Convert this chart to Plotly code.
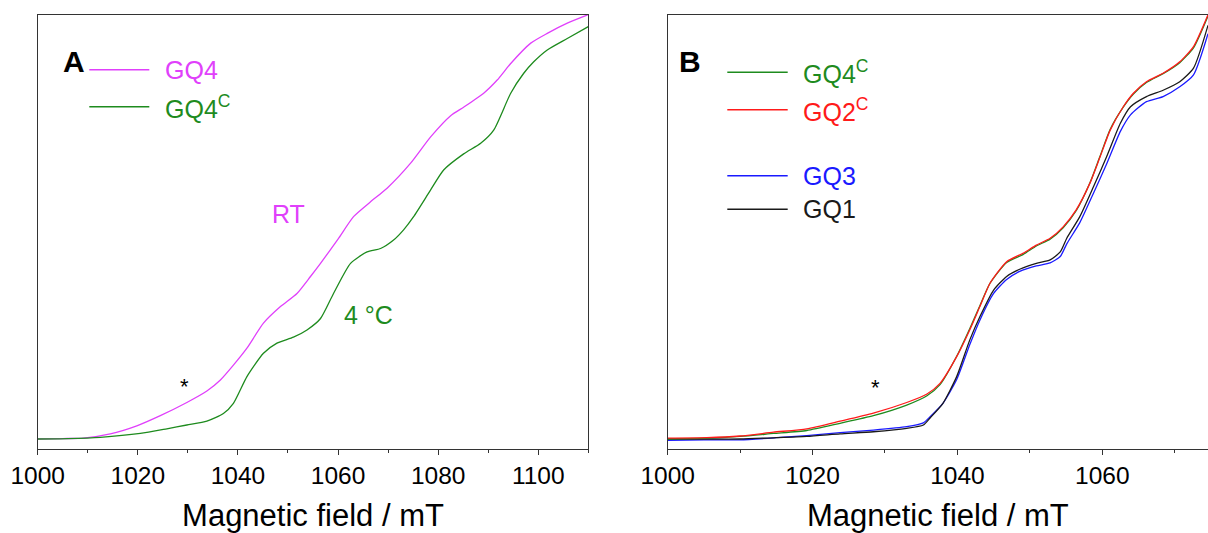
import plotly.graph_objects as go

W, H = 1208, 533

# ---------------- Panel A data ----------------
field_A_gq4 = [1000, 1005, 1009.1, 1014.5, 1019.8, 1024.5, 1029.8, 1033.8, 1036.5, 1039.1, 1041.8,
               1045.1, 1048.5, 1051.8, 1054.5, 1056.5, 1060, 1063.1, 1066.5, 1069.8, 1074.5, 1078.5,
               1082.5, 1085.1, 1089.1, 1091.8, 1094.5, 1098.5, 1101.8, 1105.8, 1110]
int_A_gq4 = [0, 0.001, 0.002, 0.012, 0.031, 0.055, 0.086, 0.113, 0.139, 0.174, 0.214,
             0.273, 0.312, 0.343, 0.383, 0.414, 0.471, 0.524, 0.559, 0.591, 0.650, 0.712,
             0.762, 0.782, 0.815, 0.846, 0.885, 0.933, 0.956, 0.980, 1.0]

field_A_gq4c = [1000, 1006, 1012.5, 1020.5, 1025.8, 1029.8, 1033.8, 1037.1, 1039.1, 1041.8, 1045.1,
                1047.8, 1051.1, 1053.8, 1056.5, 1059.1, 1062.5, 1065.8, 1068.5, 1071.1, 1073.1,
                1075.1, 1078.5, 1081.1, 1085.1, 1088.5, 1091.1, 1094.5, 1097.1, 1099.1, 1101.8,
                1105.8, 1110]
int_A_gq4c = [0, 0.001, 0.004, 0.013, 0.024, 0.033, 0.042, 0.060, 0.084, 0.147, 0.202,
              0.226, 0.240, 0.257, 0.284, 0.343, 0.414, 0.441, 0.449, 0.469, 0.493,
              0.524, 0.587, 0.634, 0.672, 0.697, 0.728, 0.815, 0.862, 0.889, 0.917,
              0.944, 0.972]

# ---------------- Panel B data ----------------
field_B_c = [1000, 1005.4, 1010, 1014.6, 1019.2, 1023.8, 1028.4, 1033, 1035.8, 1037.6, 1039.9,
             1041.7, 1043.1, 1044.5, 1046.8, 1049.1, 1050.9, 1052.8, 1054.6, 1056.4, 1058.3,
             1059.7, 1061.1, 1062.9, 1064.3, 1066.1, 1068.4, 1070.7, 1072.6, 1074.6]
int_B_gq2c = [0.002, 0.003, 0.007, 0.016, 0.024, 0.042, 0.061, 0.086, 0.106, 0.131, 0.194,
              0.257, 0.312, 0.367, 0.418, 0.438, 0.457, 0.473, 0.500, 0.540, 0.603,
              0.665, 0.728, 0.783, 0.815, 0.842, 0.862, 0.889, 0.925, 1.0]
int_B_gq4c = [0.0, 0.002, 0.006, 0.013, 0.020, 0.037, 0.055, 0.080, 0.102, 0.128, 0.195,
              0.260, 0.314, 0.367, 0.416, 0.435, 0.455, 0.471, 0.498, 0.538, 0.604,
              0.667, 0.730, 0.782, 0.813, 0.840, 0.861, 0.887, 0.922, 0.997]

field_B_n = [1000, 1005, 1010, 1015, 1019.2, 1023.8, 1028.4, 1033, 1035.3, 1036.2, 1038, 1039.9,
             1041.7, 1043.1, 1045, 1046.8, 1048.6, 1050.9, 1052.8, 1054.2, 1055.1, 1056.9,
             1058.8, 1060.6, 1062.5, 1063.9, 1066.1, 1068.4, 1070.7, 1072.6, 1074.6]
int_B_gq1 = [0.0, 0.0, 0.0, 0.003, 0.006, 0.012, 0.017, 0.025, 0.033, 0.049, 0.084, 0.147,
             0.233, 0.288, 0.351, 0.383, 0.400, 0.414, 0.422, 0.441, 0.473, 0.524,
             0.595, 0.665, 0.744, 0.783, 0.807, 0.822, 0.842, 0.874, 0.975]
int_B_gq3 = [-0.003, -0.002, -0.002, 0.003, 0.008, 0.015, 0.021, 0.029, 0.038, 0.052, 0.084, 0.140,
             0.222, 0.280, 0.343, 0.376, 0.395, 0.408, 0.415, 0.430, 0.460, 0.510,
             0.580, 0.648, 0.725, 0.764, 0.795, 0.807, 0.830, 0.858, 0.955]

MAGENTA = "#E040FB"
GREEN = "#1E8B1E"
RED = "#FF1A1A"
BLUE = "#1A1AFF"
BLACK = "#1A1A1A"
FONT = "Arial, 'Liberation Sans', sans-serif"
AX = "#333333"


def px(x):
    return x / W


def py(y):
    return 1 - y / H


fig = go.Figure()
lw = 1.3


def line(col):
    return dict(color=col, width=lw, shape="spline", smoothing=0.6)


fig.add_trace(go.Scatter(x=field_A_gq4, y=int_A_gq4, mode="lines", line=line(MAGENTA),
                         xaxis="x", yaxis="y", showlegend=False, name="GQ4"))
fig.add_trace(go.Scatter(x=field_A_gq4c, y=int_A_gq4c, mode="lines", line=line(GREEN),
                         xaxis="x", yaxis="y", showlegend=False, name="GQ4C"))
fig.add_trace(go.Scatter(x=field_B_n, y=int_B_gq3, mode="lines", line=line(BLUE),
                         xaxis="x2", yaxis="y2", showlegend=False, name="GQ3"))
fig.add_trace(go.Scatter(x=field_B_n, y=int_B_gq1, mode="lines", line=line(BLACK),
                         xaxis="x2", yaxis="y2", showlegend=False, name="GQ1"))
fig.add_trace(go.Scatter(x=field_B_c, y=int_B_gq4c, mode="lines", line=line(GREEN),
                         xaxis="x2", yaxis="y2", showlegend=False, name="GQ4C"))
fig.add_trace(go.Scatter(x=field_B_c, y=int_B_gq2c, mode="lines", line=line(RED),
                         xaxis="x2", yaxis="y2", showlegend=False, name="GQ2C"))

ydom = [py(449), py(14.7)]
yrange = [-0.0236, 1.0]

xcommon = dict(showline=True, linecolor=AX, linewidth=1, mirror=True, showgrid=False, zeroline=False,
               ticks="outside", ticklen=5, tickwidth=1, tickcolor=AX, dtick=20, tick0=1000,
               tickfont=dict(family=FONT, size=24.5, color="black"),
               minor=dict(dtick=10, tick0=1000, ticks="outside", ticklen=3, tickcolor=AX, tickwidth=1),
               title=dict(text="Magnetic field / mT", font=dict(family=FONT, size=31, color="black"), standoff=22),
               automargin=False)
ycommon = dict(showline=True, linecolor=AX, linewidth=1, showgrid=False, zeroline=False,
               showticklabels=False, ticks="", range=yrange, domain=ydom, automargin=False)

fig.update_layout(
    width=W, height=H, template="none",
    margin=dict(l=0, r=0, t=0, b=0),
    paper_bgcolor="white", plot_bgcolor="white",
    xaxis=dict(domain=[px(37.7), px(588.3)], range=[1000, 1110], anchor="y", **xcommon),
    yaxis=dict(anchor="x", mirror=True, **ycommon),
    xaxis2=dict(domain=[px(667.7), 1.0], range=[1000, 1074.6], anchor="y2", **xcommon),
    yaxis2=dict(anchor="x2", mirror=False, **ycommon),
)

ann = []
shapes = []

# panel letters
ann.append(dict(text="<b>A</b>", x=px(61), y=py(43), xref="paper", yref="paper", showarrow=False,
                font=dict(family=FONT, size=30, color="black")))
ann.append(dict(text="<b>B</b>", x=px(690), y=py(43), xref="paper", yref="paper", showarrow=False,
                font=dict(family=FONT, size=30, color="black")))

# legends (manual)
legA = [("GQ4", MAGENTA, 69.7), ("GQ4<sup>C</sup>", GREEN, 106.7)]
for txt, col, yy in legA:
    shapes.append(dict(type="line", xref="paper", yref="paper", x0=px(89.3), x1=px(149.3), y0=py(yy), y1=py(yy),
                       line=dict(color=col, width=1.5)))
    ann.append(dict(text=txt, x=px(163), y=py(yy), xref="paper", yref="paper", xanchor="left", yanchor="middle",
                    showarrow=False, font=dict(family=FONT, size=25, color=col)))

legB = [("GQ4<sup>C</sup>", GREEN, 72.3), ("GQ2<sup>C</sup>", RED, 109.7), ("GQ3", BLUE, 175.7), ("GQ1", BLACK, 209.3)]
for txt, col, yy in legB:
    shapes.append(dict(type="line", xref="paper", yref="paper", x0=px(727.3), x1=px(787.7), y0=py(yy), y1=py(yy),
                       line=dict(color=col, width=1.5)))
    ann.append(dict(text=txt, x=px(801), y=py(yy), xref="paper", yref="paper", xanchor="left", yanchor="middle",
                    showarrow=False, font=dict(family=FONT, size=25, color=col)))

# labels in panel A
ann.append(dict(text="RT", x=1050.1, y=0.530, xref="x", yref="y", showarrow=False,
                font=dict(family=FONT, size=25, color=MAGENTA)))
ann.append(dict(text="4 °C", x=1066.1, y=0.292, xref="x", yref="y", showarrow=False,
                font=dict(family=FONT, size=25, color=GREEN)))
ann.append(dict(text="*", x=1029.3, y=0.123, xref="x", yref="y", showarrow=False,
                font=dict(family=FONT, size=22, color="black")))
ann.append(dict(text="*", x=1028.7, y=0.121, xref="x2", yref="y2", showarrow=False,
                font=dict(family=FONT, size=22, color="black")))

fig.update_layout(annotations=ann, shapes=shapes)
fig.write_html("out.html")
